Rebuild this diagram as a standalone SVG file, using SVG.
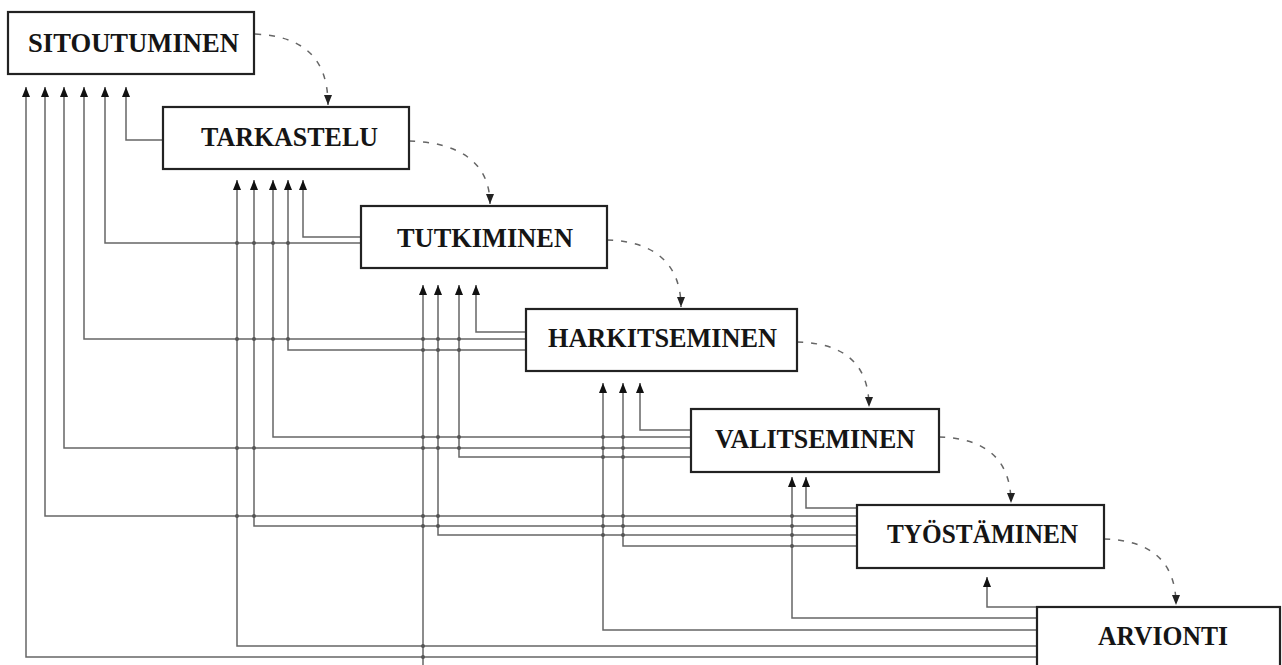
<svg xmlns="http://www.w3.org/2000/svg" width="1282" height="665" viewBox="0 0 1282 665">
<style>
.box{fill:#fff;stroke:#222;stroke-width:2.2}
.lbl{font-family:"Liberation Serif","Times New Roman",serif;font-weight:bold;font-size:27px;fill:#151515}
.ln{fill:none;stroke:#666;stroke-width:1.5;marker-end:url(#ah)}
.dash{fill:none;stroke:#666;stroke-width:1.5;stroke-dasharray:6 8;marker-end:url(#ahd)}
.dot{fill:#555}
</style>
<defs>
<marker id="ah" markerUnits="userSpaceOnUse" markerWidth="11" markerHeight="9" refX="10" refY="4" orient="auto">
<path d="M0,0 L10,4 L0,8 z" fill="#111"/>
</marker>
<marker id="ahd" markerUnits="userSpaceOnUse" markerWidth="11" markerHeight="9" refX="10" refY="4" orient="auto">
<path d="M0,0 L10,4 L0,8 z" fill="#222"/>
</marker>
</defs>
<rect width="1282" height="665" fill="#fff"/>
<g id="connectors">
<path class="dash" d="M255,34 C300,36 328,55 328,105"/>
<path class="dash" d="M409,141 C455,142 490,160 490,204"/>
<path class="dash" d="M607,240 C652,241 681,262 681,307"/>
<path class="dash" d="M797,342 C842,343 869,362 869,407"/>
<path class="dash" d="M939,437 C984,438 1011,458 1011,503"/>
<path class="dash" d="M1104,539 C1149,540 1176,560 1176,605"/>
<polyline class="ln" points="163,140 126,140 126,87"/>
<polyline class="ln" points="361,237 303,237 303,180"/>
<polyline class="ln" points="361,243 105,243 105,87"/>
<polyline class="ln" points="526,332 476,332 476,285"/>
<polyline class="ln" points="526,339 84,339 84,87"/>
<polyline class="ln" points="526,350 288,350 288,180"/>
<polyline class="ln" points="691,430 640,430 640,383"/>
<polyline class="ln" points="691,437 273,437 273,180"/>
<polyline class="ln" points="691,448 64,448 64,87"/>
<polyline class="ln" points="691,457 459,457 459,285"/>
<polyline class="ln" points="857,508 806,508 806,477"/>
<polyline class="ln" points="857,516 45,516 45,87"/>
<polyline class="ln" points="857,526 254,526 254,180"/>
<polyline class="ln" points="857,535 438,535 438,285"/>
<polyline class="ln" points="857,546 623,546 623,383"/>
<polyline class="ln" points="1037,607 987,607 987,577"/>
<polyline class="ln" points="1037,618 792,618 792,477"/>
<polyline class="ln" points="1037,630 603,630 603,383"/>
<polyline class="ln" points="1037,646 237,646 237,180"/>
<polyline class="ln" points="1037,657 26,657 26,87"/>
<polyline class="ln" points="423,672 423,285"/>
<g class="dot">
<circle cx="237" cy="243" r="2"/><circle cx="254" cy="243" r="2"/><circle cx="273" cy="243" r="2"/><circle cx="288" cy="243" r="2"/>
<circle cx="237" cy="339" r="2"/><circle cx="254" cy="339" r="2"/><circle cx="273" cy="339" r="2"/><circle cx="288" cy="339" r="2"/><circle cx="423" cy="339" r="2"/><circle cx="438" cy="339" r="2"/><circle cx="459" cy="339" r="2"/>
<circle cx="423" cy="350" r="2"/><circle cx="438" cy="350" r="2"/><circle cx="459" cy="350" r="2"/>
<circle cx="423" cy="437" r="2"/><circle cx="438" cy="437" r="2"/><circle cx="459" cy="437" r="2"/><circle cx="603" cy="437" r="2"/><circle cx="623" cy="437" r="2"/>
<circle cx="237" cy="448" r="2"/><circle cx="254" cy="448" r="2"/><circle cx="423" cy="448" r="2"/><circle cx="438" cy="448" r="2"/><circle cx="459" cy="448" r="2"/><circle cx="603" cy="448" r="2"/><circle cx="623" cy="448" r="2"/>
<circle cx="603" cy="457" r="2"/><circle cx="623" cy="457" r="2"/>
<circle cx="237" cy="516" r="2"/><circle cx="254" cy="516" r="2"/><circle cx="423" cy="516" r="2"/><circle cx="438" cy="516" r="2"/><circle cx="603" cy="516" r="2"/><circle cx="623" cy="516" r="2"/><circle cx="792" cy="516" r="2"/>
<circle cx="423" cy="526" r="2"/><circle cx="438" cy="526" r="2"/><circle cx="603" cy="526" r="2"/><circle cx="623" cy="526" r="2"/><circle cx="792" cy="526" r="2"/>
<circle cx="603" cy="535" r="2"/><circle cx="623" cy="535" r="2"/><circle cx="792" cy="535" r="2"/>
<circle cx="792" cy="546" r="2"/>
<circle cx="423" cy="646" r="2"/><circle cx="423" cy="657" r="2"/>
</g>
</g>
<g id="sitoutuminen"><rect class="box" x="8" y="12" width="246" height="62"/><text class="lbl" x="28" y="52" textLength="211" lengthAdjust="spacingAndGlyphs">SITOUTUMINEN</text></g>
<g id="tarkastelu"><rect class="box" x="163" y="107" width="246" height="62"/><text class="lbl" x="201" y="146" textLength="177" lengthAdjust="spacingAndGlyphs">TARKASTELU</text></g>
<g id="tutkiminen"><rect class="box" x="361" y="206" width="246" height="62"/><text class="lbl" x="397" y="247" textLength="176" lengthAdjust="spacingAndGlyphs">TUTKIMINEN</text></g>
<g id="harkitseminen"><rect class="box" x="526" y="309" width="271" height="62"/><text class="lbl" x="548" y="347" textLength="229" lengthAdjust="spacingAndGlyphs">HARKITSEMINEN</text></g>
<g id="valitseminen"><rect class="box" x="691" y="409" width="248" height="63"/><text class="lbl" x="715" y="448" textLength="200" lengthAdjust="spacingAndGlyphs">VALITSEMINEN</text></g>
<g id="tyostaminen"><rect class="box" x="857" y="505" width="247" height="63"/><text class="lbl" x="887" y="543" textLength="191" lengthAdjust="spacingAndGlyphs">TYÖSTÄMINEN</text></g>
<g id="arviointi"><rect class="box" x="1037" y="607" width="243" height="80"/><text class="lbl" x="1098" y="645" textLength="130" lengthAdjust="spacingAndGlyphs">ARVIONTI</text></g>
</svg>
